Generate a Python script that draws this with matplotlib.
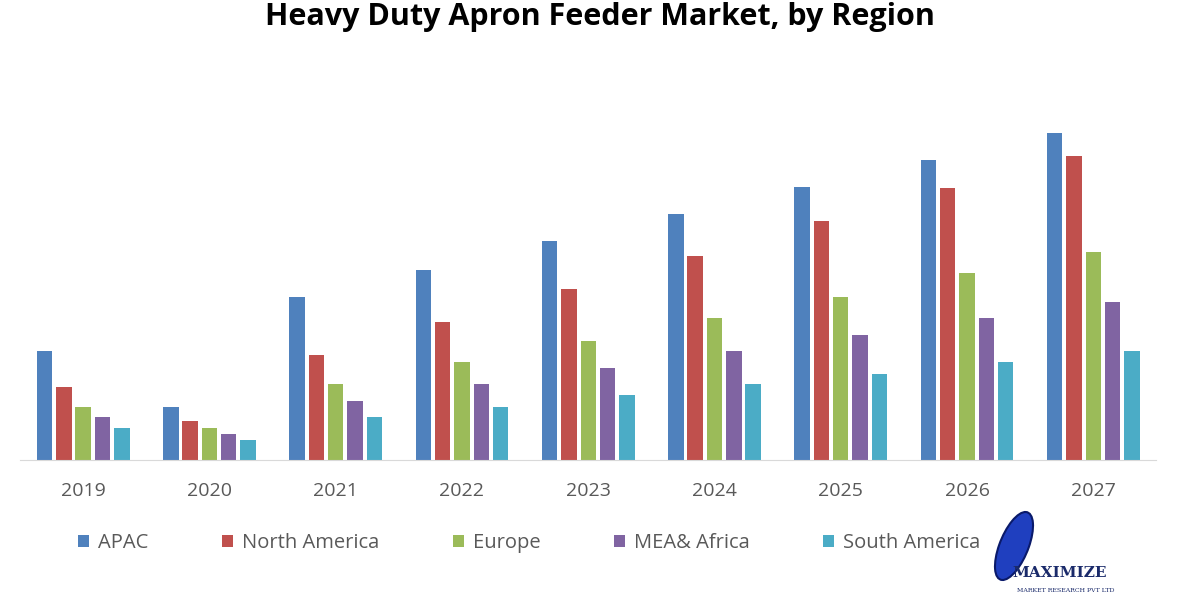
import numpy as np
import matplotlib.pyplot as plt
from matplotlib.patches import Patch, Ellipse

# Дані (умовні одиниці)
years = ["2019", "2020", "2021", "2022", "2023", "2024", "2025", "2026", "2027"]
regions = ["APAC", "North America", "Europe", "MEA& Africa", "South America"]
apac = [109, 53, 163, 190, 219, 246, 273, 300, 327]
north_america = [73, 39, 105, 138, 171, 204, 239, 272, 304]
europe = [53, 32, 76, 98, 119, 142, 163, 187, 208]
mea_africa = [43, 26, 59, 76, 92, 109, 125, 142, 158]
south_america = [32, 20, 43, 53, 65, 76, 86, 98, 109]

colors = ["#4F81BD", "#C0504D", "#9BBB59", "#8064A2", "#4BACC6"]
series = [apac, north_america, europe, mea_africa, south_america]

plt.rcParams['font.family'] = ['Open Sans', 'DejaVu Sans']

fig = plt.figure(figsize=(12, 6), dpi=100)
ax = fig.add_axes([0.0167, 0.2333, 0.947, 0.6])

x = np.arange(len(years))
step = 0.153
width = 0.122
for i, (vals, c) in enumerate(zip(series, colors)):
    ax.bar(x + (i - 2) * step, vals, width=width, color=c, label=regions[i])

ax.set_xlim(-0.5, len(years) - 0.5)
ax.set_ylim(0, 360)
ax.set_xticks(x)
ax.set_xticklabels(years, fontsize=14, color="#595959")
ax.tick_params(axis='x', length=0, pad=16)
ax.set_yticks([])
for s in ["top", "right", "left"]:
    ax.spines[s].set_visible(False)
ax.spines["bottom"].set_color("#D9D9D9")

fig.text(0.5, 0.972, "Heavy Duty Apron Feeder Market, by Region",
         ha="center", va="center", fontsize=22, fontweight="bold", color="#000000")

# легенда внизу
handles = [Patch(facecolor=c) for c in colors]
fig.legend(handles, regions, loc="center", bbox_to_anchor=(0.441, 0.095), ncol=5,
           frameon=False, fontsize=14.5, handlelength=0.55, handleheight=0.55,
           handletextpad=0.45, columnspacing=3.65, labelcolor="#595959")

# логотип (спрощено)
ell = Ellipse((0.845, 0.09), 0.025, 0.115, transform=fig.transFigure,
              facecolor="#1F3FBF", edgecolor="#0A1A6A", lw=1.5, angle=-10)
fig.patches.append(ell)
fig.text(0.883, 0.045, "MAXIMIZE", ha="center", va="center", fontsize=11,
         family="DejaVu Serif", color="#1A2A6A", fontweight="bold")
fig.text(0.888, 0.015, "MARKET RESEARCH PVT LTD", ha="center", va="center", fontsize=4.5,
         family="DejaVu Serif", color="#1A2A6A")

fig.savefig("out.png", dpi=100, facecolor="white")
